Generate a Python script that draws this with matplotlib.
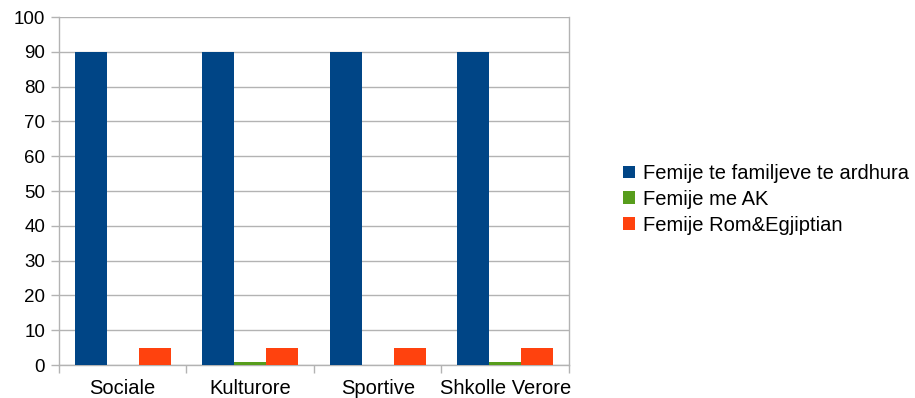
import matplotlib
matplotlib.use("Agg")
import matplotlib.pyplot as plt
import numpy as np

categories = ["Sociale", "Kulturore", "Sportive", "Shkolle Verore"]
series_names = ["Femije te familjeve te ardhura", "Femije me AK", "Femije Rom&Egjiptian"]
ardhura = [90, 90, 90, 90]
me_ak = [0, 1, 0, 1]
rom_egj = [5, 5, 5, 5]

colors = ["#004586", "#579d1c", "#ff420e"]
grid_c = "#b3b3b3"

plt.rcParams["font.family"] = ["Liberation Sans", "DejaVu Sans"]
plt.rcParams["font.size"] = 13

fig = plt.figure(figsize=(9.15, 3.98), dpi=100)
ax = fig.add_axes([59 / 915, 1 - 365 / 398, 510 / 915, 348 / 398])

x = np.arange(len(categories))
w = 0.25
for i, (vals, name) in enumerate(zip([ardhura, me_ak, rom_egj], series_names)):
    ax.bar(x + (i - 1) * w, vals, width=w, color=colors[i], label=name, zorder=3)

ax.set_xlim(-0.5, len(categories) - 0.5)
ax.set_ylim(0, 100)
ax.set_yticks(range(0, 101, 10))
ax.yaxis.grid(True, color=grid_c, linewidth=1, zorder=0)

# category ticks sit on the boundaries, labels in the middle
ax.set_xticks(np.arange(len(categories) + 1) - 0.5)
ax.set_xticklabels([])
ax.set_xticks(x, minor=True)
ax.set_xticklabels(categories, minor=True)
ax.tick_params(axis="x", which="major", length=6, color=grid_c, width=1)
ax.tick_params(axis="x", which="minor", length=0, pad=10, labelsize=14.5)
ax.tick_params(axis="y", length=6, color=grid_c, width=1, labelsize=13.5, pad=4)

for s in ax.spines.values():
    s.set_color(grid_c)
    s.set_linewidth(1)
ax.spines["top"].set_visible(False)

leg = ax.legend(loc="center left", bbox_to_anchor=(1.07, 0.476), frameon=False,
                handlelength=0.6, handleheight=0.6, handletextpad=0.4,
                labelspacing=0.34, fontsize=14.5)

plt.savefig("out.png", dpi=100)
